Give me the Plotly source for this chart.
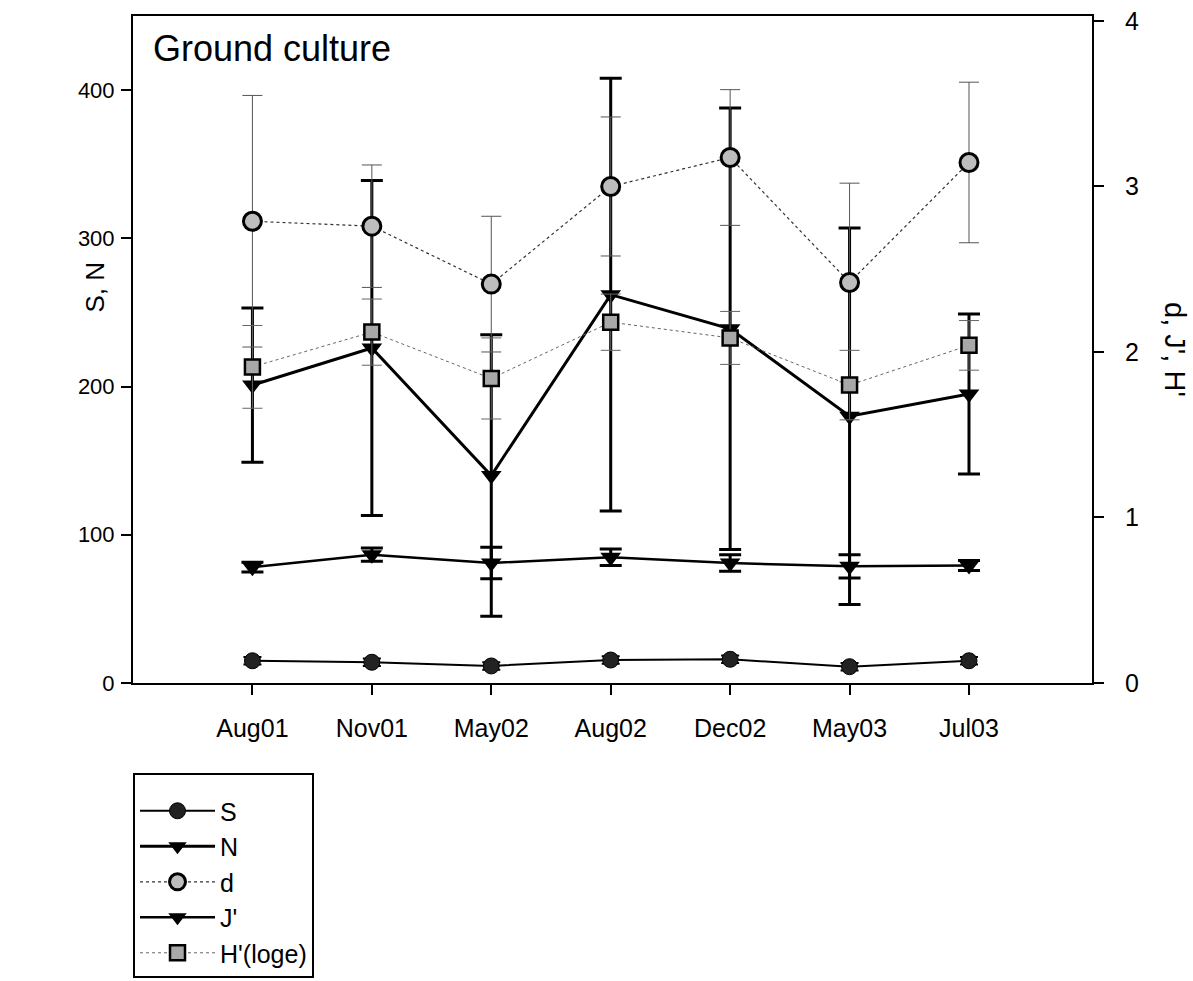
import plotly.graph_objects as go

months = ["Aug01", "Nov01", "May02", "Aug02", "Dec02", "May03", "Jul03"]

S_vals = [15, 14, 11.5, 15.5, 16, 11, 15]
S_err = [2.5, 2.5, 2.5, 2.5, 2.5, 2.5, 2.5]

N_vals = [201, 226, 140, 262, 239, 180, 195]
N_err = [52, 113, 95, 146, 149, 127, 54]

d_vals = [2.79, 2.76, 2.41, 3.00, 3.175, 2.42, 3.145]
d_err = [0.76, 0.37, 0.41, 0.42, 0.41, 0.60, 0.485]

J_vals = [0.70, 0.775, 0.725, 0.76, 0.725, 0.705, 0.71]
J_err = [0.03, 0.04, 0.095, 0.05, 0.05, 0.07, 0.03]

H_vals = [1.91, 2.12, 1.84, 2.18, 2.085, 1.80, 2.04]
H_err = [0.25, 0.20, 0.245, 0.17, 0.16, 0.21, 0.15]

FONT = "Arial, Liberation Sans, sans-serif"

fig = go.Figure()

# S
fig.add_trace(go.Scatter(
    x=months, y=S_vals, name="S", mode="lines+markers",
    line=dict(color="black", width=2),
    marker=dict(symbol="circle", size=16, color="#222", line=dict(color="black", width=1)),
    error_y=dict(type="data", array=S_err, color="black", thickness=2, width=9),
    yaxis="y"))

# N
fig.add_trace(go.Scatter(
    x=months, y=N_vals, name="N", mode="lines+markers",
    line=dict(color="black", width=3),
    marker=dict(symbol="triangle-down", size=18, color="black"),
    error_y=dict(type="data", array=N_err, color="black", thickness=3, width=11),
    yaxis="y"))

# d
fig.add_trace(go.Scatter(
    x=months, y=d_vals, name="d", mode="lines+markers",
    line=dict(color="#333", width=1.2, dash="dot"),
    marker=dict(symbol="circle", size=18, color="#bdbdbd", line=dict(color="black", width=3)),
    error_y=dict(type="data", array=d_err, color="#555", thickness=1, width=10),
    yaxis="y2"))

# J'
fig.add_trace(go.Scatter(
    x=months, y=J_vals, name="J'", mode="lines+markers",
    line=dict(color="black", width=2.5),
    marker=dict(symbol="triangle-down", size=18, color="black"),
    error_y=dict(type="data", array=J_err, color="black", thickness=3, width=11),
    yaxis="y2"))

# H'
fig.add_trace(go.Scatter(
    x=months, y=H_vals, name="H'(loge)", mode="lines+markers",
    line=dict(color="#666", width=1, dash="dot"),
    marker=dict(symbol="square", size=15, color="#a8a8a8", line=dict(color="black", width=2.5)),
    error_y=dict(type="data", array=H_err, color="#666", thickness=1, width=10),
    yaxis="y2"))

fig.update_layout(
    width=1193, height=981,
    margin=dict(l=133, r=101, t=16, b=298, autoexpand=False),
    paper_bgcolor="white", plot_bgcolor="white",
    font=dict(family=FONT, color="black", size=20),
    showlegend=True,
    legend=dict(
        x=0, y=-0.135, xanchor="left", yanchor="top",
        bordercolor="black", borderwidth=2,
        font=dict(family=FONT, size=25, color="black"),
        title=dict(text=" ", font=dict(size=10)),
        tracegroupgap=0, itemwidth=75,
        bgcolor="white",
    ),
    xaxis=dict(
        type="category", range=[-1, 7.03], automargin=False,
        showline=True, linecolor="black", linewidth=2, mirror=True,
        ticks="outside", ticklen=10, tickwidth=2, tickcolor="black",
        ticklabelstandoff=12,
        tickfont=dict(family=FONT, size=25), showgrid=False, zeroline=False,
    ),
    yaxis=dict(
        range=[0, 450], tickvals=[0, 100, 200, 300, 400], automargin=False,
        showline=True, linecolor="black", linewidth=2,
        ticks="outside", ticklen=10, tickwidth=2, tickcolor="black",
        ticklabelstandoff=2,
        tickfont=dict(family=FONT, size=22), showgrid=False, zeroline=False,
    ),
    yaxis2=dict(
        range=[0, 4.03], tickvals=[0, 1, 2, 3, 4], overlaying="y", side="right",
        automargin=False,
        showline=True, linecolor="black", linewidth=2,
        ticks="outside", ticklen=10, tickwidth=2, tickcolor="black",
        ticklabelstandoff=16,
        tickfont=dict(family=FONT, size=25), showgrid=False, zeroline=False,
    ),
    annotations=[
        dict(text="Ground culture", xref="paper", yref="paper", x=0.019, y=0.985,
             xanchor="left", yanchor="top", showarrow=False,
             font=dict(family=FONT, size=36, color="black")),
        dict(text="S, N", xref="paper", yref="paper", x=-0.0395, y=0.593,
             xanchor="center", yanchor="middle", showarrow=False, textangle=-90,
             font=dict(family=FONT, size=26, color="black")),
        dict(text="d, J', H'", xref="paper", yref="paper", x=1.087, y=0.50,
             xanchor="center", yanchor="middle", showarrow=False, textangle=90,
             font=dict(family=FONT, size=29, color="black")),
    ],
)

fig.write_html("out.html")
